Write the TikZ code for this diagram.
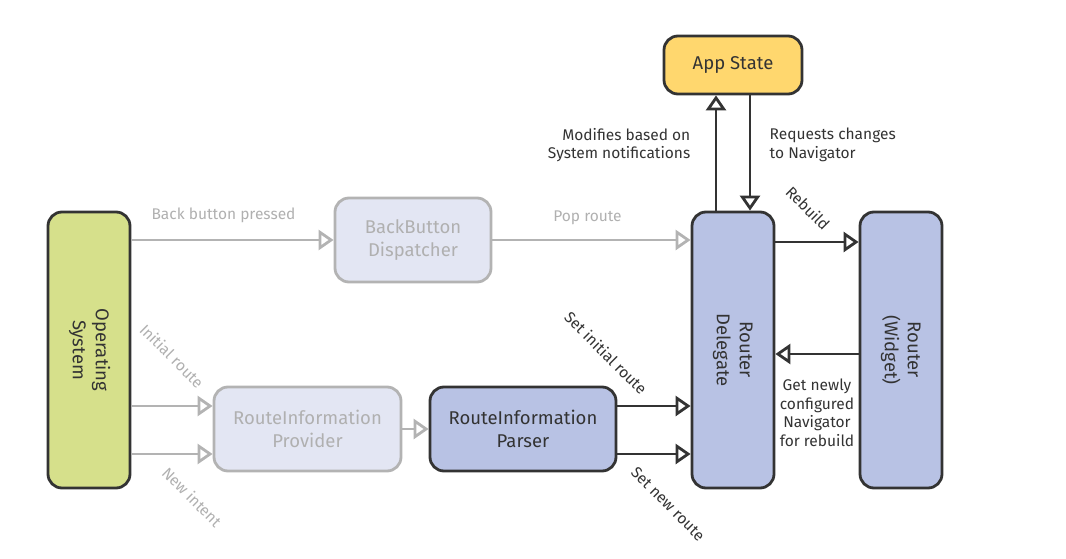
\documentclass[tikz,border=0pt]{standalone}
\usepackage{fontspec}
\setmainfont{Fira Sans}
\usepackage{graphicx}
\usetikzlibrary{positioning, arrows.meta}

\definecolor{osgreen}{HTML}{D6E08B}
\definecolor{appyellow}{HTML}{FFD76E}
\definecolor{routerblue}{HTML}{B8C2E4}
\definecolor{fadedfill}{HTML}{E3E6F3}
\definecolor{fadedline}{HTML}{B3B3B3}
\definecolor{darkline}{HTML}{333333}
\definecolor{labelgray}{HTML}{B0B0B0}

\newcommand{\sidetext}[1]{\rotatebox{-90}{\begin{tabular}{@{}c@{}}#1\end{tabular}}}

\begin{document}
\begin{tikzpicture} [x = 1pt, y = -1pt, on grid,
    box/.style = {draw = darkline, line width = 2.8pt, rounded corners = 14pt,
        fill = routerblue, text = darkline, align = center,
        font = \fontsize{18.5}{23}\selectfont},
    faded/.style = {box, draw = fadedline, fill = fadedfill, text = labelgray},
    tall/.style = {box, minimum width = 82pt, minimum height = 276pt},
    wide/.style = {minimum height = 84pt},
    flow/.style = {-{Triangle[open, length = 15pt, width = 20pt]},
        line width = 2.8pt, draw = darkline},
    fadedflow/.style = {flow, draw = fadedline},
    tag/.style = {font = \fontsize{15.5}{18.5}\selectfont, text = darkline},
    fadedtag/.style = {tag, text = labelgray}]

    \useasboundingbox (0,0) rectangle (1066,559);

    \node (os) [tall, fill = osgreen] at (89,350)
        {\sidetext{Operating\\System}};
    \node (delegate) [tall, right = 644pt of os]
        {\sidetext{Router\\Delegate}};
    \node (widget) [tall, right = 168pt of delegate]
        {\sidetext{Router\\(Widget)}};
    \node (appstate) [box, fill = appyellow, minimum width = 138pt,
        minimum height = 58pt, above = 285pt of delegate] {App State};
    \node (backbtn) [faded, wide, minimum width = 156pt,
        above right = 110pt and 324pt of os] {BackButton\\Dispatcher};
    \node (provider) [faded, wide, minimum width = 187pt,
        below right = 79pt and 218.5pt of os] {RouteInformation\\Provider};
    \node (parser) [box, wide, minimum width = 186pt,
        right = 215.5pt of provider] {RouteInformation\\Parser};

    \coordinate (initin) at ([yshift = 23pt]provider.west);
    \coordinate (intentin) at ([yshift = -25pt]provider.west);
    \coordinate (setinit) at ([yshift = 23pt]parser.east);
    \coordinate (setnew) at ([yshift = -25pt]parser.east);
    \coordinate (rebuildout) at ([yshift = 108pt]delegate.east);
    \coordinate (navout) at ([yshift = -4pt]widget.west);

    % system side
    \draw [fadedflow] (os.east |- backbtn.west) -- (backbtn.west)
        node (lbback) [fadedtag, midway, xshift = -9pt, yshift = 25pt]
        {Back button pressed};
    \draw [fadedflow] (backbtn.east) -- (backbtn.east -| delegate.west)
        node (lbpop) [fadedtag, midway, xshift = -4pt, yshift = 22pt]
        {Pop route};
    \draw [fadedflow] (os.east |- initin) -- (initin)
        node (lbinit) [fadedtag, midway, yshift = 50pt, rotate = -45]
        {Initial route};
    \draw [fadedflow] (os.east |- intentin) -- (intentin)
        node (lbintent) [fadedtag, midway, xshift = 20pt, yshift = -43pt,
        rotate = -45] {New intent};
    \draw [fadedflow] (provider.east) -- (parser.west);

    % parser to delegate
    \draw [flow] (setinit) -- (setinit -| delegate.west)
        node (lbsetinit) [tag, midway, xshift = -48pt, yshift = 53pt,
        rotate = -45] {Set initial route};
    \draw [flow] (setnew) -- (setnew -| delegate.west)
        node (lbsetnew) [tag, midway, xshift = 14pt, yshift = -50pt,
        rotate = -45] {Set new route};

    % app state loop
    \draw [flow] ([xshift = -17pt]delegate.north)
        -- ([xshift = -17pt]delegate.north |- appstate.south)
        node (lbmod) [tag, midway, anchor = east, align = right,
        xshift = -21pt, yshift = 8pt] {Modifies based on\\System notifications};
    \draw [flow] ([xshift = 17pt]appstate.south)
        -- ([xshift = 17pt]appstate.south |- delegate.north)
        node (lbreq) [tag, midway, anchor = west, align = left,
        xshift = 15pt, yshift = 8pt] {Requests changes\\to Navigator};

    % router widget
    \draw [flow] (rebuildout) -- (rebuildout -| widget.west)
        node (lbrebuild) [tag, midway, xshift = -9pt, yshift = 34pt,
        rotate = -45] {Rebuild};
    \draw [flow] (navout) -- (navout -| delegate.east)
        node (lbnav) [tag, midway, align = center, yshift = -59pt]
        {Get newly\\configured\\Navigator\\for rebuild};

\end{tikzpicture}
\end{document}
